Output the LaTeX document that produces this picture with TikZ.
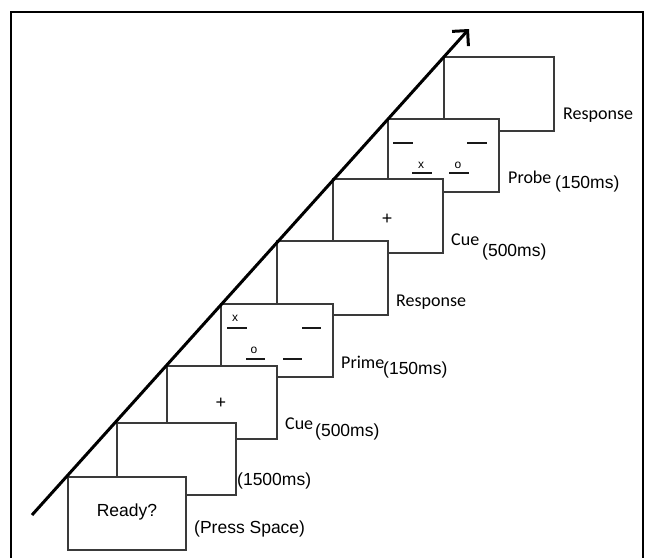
\documentclass[tikz,border=0pt]{standalone}
\usepackage{fontspec}
\setmainfont{Liberation Sans}
\newfontfamily\calib{Carlito}
\usetikzlibrary{arrows.meta}
\definecolor{boxline}{HTML}{3A3A3A}
\tikzset{
  stimbox/.style={draw=boxline, line width=1.4pt, fill=white, inner sep=0pt, font=\fontsize{17.5}{20}\selectfont},
  lbl/.style={anchor=base west, inner sep=0pt, font=\calib\fontsize{18}{20}\selectfont},
  dur/.style={anchor=base west, inner sep=0pt, font=\fontsize{17.5}{20}\selectfont},
  small/.style={inner sep=0pt, font=\fontsize{12}{14}\selectfont},
  plus/.style={inner sep=0pt, font=\fontsize{18}{20}\selectfont},
  bar/.style={line width=2.4pt, draw=black!90},
  timeaxis/.style={line width=3pt, -{Straight Barb[length=11pt,width=22pt]}}
}
\begin{document}
\begin{tikzpicture}[x=1pt,y=-1pt]
\useasboundingbox (0,0) rectangle (647,557);
% frame
\draw[line width=2.5pt] (11,560) -- (11,12) -- (643,12) -- (643,560);
% boxes, back to front
\node[stimbox, minimum width=110pt, minimum height=74pt] (b8) at (499,94) {};
\node[stimbox, minimum width=111pt, minimum height=73pt] (b7) at (443.5,155.5) {};
\node[stimbox, minimum width=110pt, minimum height=74pt] (b6) at (388,216) {};
\node[stimbox, minimum width=111pt, minimum height=74pt] (b5) at (332.5,278) {};
\node[stimbox, minimum width=112pt, minimum height=73pt] (b4) at (277,340.5) {};
\node[stimbox, minimum width=110pt, minimum height=73pt] (b3) at (222,402.5) {};
\node[stimbox, minimum width=119pt, minimum height=72pt] (b2) at (176.5,459) {};
\node[stimbox, minimum width=118pt, minimum height=73pt] (b1) at (127,513.5) {};
\node[inner sep=0pt, font=\fontsize{17.5}{20}\selectfont] (ready) at (127,512) {Ready?};
% box contents
\node[plus] (p1) at (221,403) {+};
\node[plus] (p2) at (387,219) {+};
% prime
\node[small] (px) at (235,318) {x};
\node[small] (po) at (254,350) {o};
\draw[bar] (227,328) -- (247,328);
\draw[bar] (302,328) -- (321,328);
\draw[bar] (246,359) -- (265,359);
\draw[bar] (283,359) -- (302,359);
% probe
\draw[bar] (393,143) -- (413,143);
\draw[bar] (467,143) -- (487,143);
\node[small] (qx) at (421,165) {x};
\node[small] (qo) at (458,165) {o};
\draw[bar] (412,173) -- (432,173);
\draw[bar] (449,173) -- (469,173);
% axis arrow
\coordinate (ts) at (32,515);
\coordinate (te) at (469,29);
\draw[timeaxis] (ts) -- (te);
% labels
\node[dur] (l1) at (194,533) {(Press Space)};
\node[dur] (l2) at (237,485) {(1500ms)};
\node[lbl] (l3a) at (285,429) {Cue};
\node[dur] (l3b) at (315,436) {(500ms)};
\node[lbl] (l4a) at (341,368) {Prime};
\node[dur] (l4b) at (383,374) {(150ms)};
\node[lbl] (l5) at (396,306) {Response};
\node[lbl] (l6a) at (451,245) {Cue};
\node[dur] (l6b) at (482,256) {(500ms)};
\node[lbl] (l7a) at (508,183) {Probe};
\node[dur] (l7b) at (555,188) {(150ms)};
\node[lbl] (l8) at (563,119) {Response};
\end{tikzpicture}
\end{document}
